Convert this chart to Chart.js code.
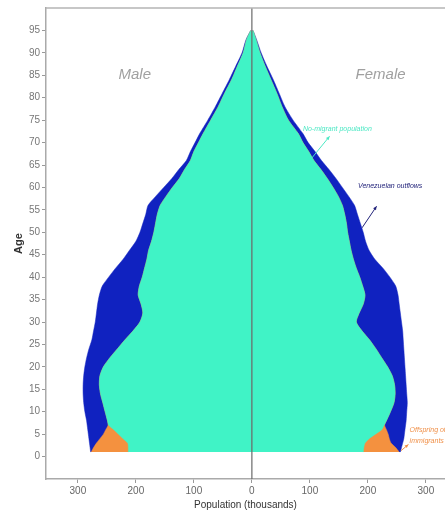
<!DOCTYPE html>
<html>
<head>
<meta charset="utf-8">
<script src="https://cdn.jsdelivr.net/npm/chart.js@4.4.0/dist/chart.umd.min.js"></script>
<style>
  html, body { margin: 0; padding: 0; background: #fff; overflow: hidden; }
  #wrap { position: relative; width: 445px; height: 511px; }
</style>
</head>
<body>
<div id="wrap"><canvas id="pyramid"></canvas></div>
<script>
// ── Data (thousands) ────────────────────────────────────────────────────────

const ages = [1, 2, 3, 4, 5, 6, 7, 8, 10, 12, 14, 16, 18, 20, 22, 24, 26, 28, 30, 32, 34, 36, 38, 40,
  42, 44, 46, 48, 50, 52, 54, 56, 58, 60, 62, 64, 66, 68, 70, 72, 75, 78, 81, 84, 87, 90, 93, 95];

const maleNoMigrant = [213, 213, 214, 222, 230, 238, 247, 249, 253, 257, 261, 263, 262, 256, 245, 232, 219, 205,
  193, 188, 191, 196, 194, 189, 185, 181, 178, 173, 169, 166, 163, 158, 148, 137, 125, 116, 106, 100,
  92, 84, 71, 58, 47, 35, 25, 15, 9, 2];
const maleOffspring = [64, 60, 54, 40, 26, 14, 1, 0, 0, 0, 0, 0, 0, 0, 0, 0, 0, 0, 0, 0, 0, 0, 0, 0,
  0, 0, 0, 0, 0, 0, 0, 0, 0, 0, 0, 0, 0, 0, 0, 0, 0, 0, 0, 0, 0, 0, 0, 0];
const maleOutflows = [1, 6, 12, 19, 26, 31, 36, 36, 35, 33, 30, 28, 28, 32, 40, 49, 57, 68, 77, 80, 75, 67, 64, 58,
  50, 41, 33, 27, 24, 22, 20, 21, 18, 15, 13, 10, 7, 6, 6, 6, 5, 5, 4, 4, 3, 2, 1, 0];

const femaleNoMigrant = [192, 193, 195, 202, 213, 224, 228, 232, 239, 245, 247, 246, 242, 234, 224, 214, 203, 190,
  180, 185, 192, 195, 191, 186, 180, 175, 171, 168, 165, 163, 160, 156, 149, 140, 130, 119, 107, 98,
  88, 80, 63, 52, 43, 33, 23, 14, 7, 2];
const femaleOffspring = [62, 55, 45, 35, 22, 8, 1, 0, 0, 0, 0, 0, 0, 0, 0, 0, 0, 0, 0, 0, 0, 0, 0, 0,
  0, 0, 0, 0, 0, 0, 0, 0, 0, 0, 0, 0, 0, 0, 0, 0, 0, 0, 0, 0, 0, 0, 0, 0];
const femaleOutflows = [2, 10, 20, 25, 28, 32, 36, 34, 28, 23, 20, 20, 23, 30, 39, 48, 58, 70, 78, 71, 62, 57, 57, 52,
  46, 37, 31, 28, 27, 24, 22, 21, 18, 16, 15, 14, 13, 11, 9, 8, 8, 5, 4, 4, 3, 2, 1, 0];

const xTicks = [-300, -200, -100, 0, 100, 200, 300];
const yTicks = [0, 5, 10, 15, 20, 25, 30, 35, 40, 45, 50, 55, 60, 65, 70, 75, 80, 85, 90, 95];

const GREEN = '#40F3C6';
const ORANGE = '#F4913F';
const BLUE = '#1022C0';

// ── Helpers ─────────────────────────────────────────────────────────────────

// outer edge of a layer = sum of all layers up to it; male side is negative
function edge(layers, sign) {
  return ages.map((age, i) => ({
    y: age,
    x: sign * layers.reduce((s, arr) => s + arr[i], 0),
  }));
}

function layer(label, data, color, order) {
  return {
    label,
    data,
    order,
    borderColor: color,
    backgroundColor: color,
    borderWidth: 0.5,
    pointRadius: 0,
    tension: 0.25,
    fill: 'origin',
  };
}

// ── Notes on the plot: sex labels and arrows ────────────────────────────────

const notes = [
  { text: 'No-migrant population', x: 88, y: 73, color: '#4de8c4', from: [103, 66.5], to: [134, 71.4] },
  { text: 'Venezuelan outflows', x: 183, y: 60.2, color: '#22237a', from: [190, 51], to: [215, 55.8] },
  { text: 'Offspring of', x: 272, y: 6, color: '#f0914a', from: null, to: null },
  { text: 'immigrants', x: 272, y: 3.4, color: '#f0914a', from: [257, 1.3], to: [270, 2.7] },
];

function arrow(ctx, x0, y0, x1, y1, color) {
  const a = Math.atan2(y1 - y0, x1 - x0);
  ctx.strokeStyle = color;
  ctx.fillStyle = color;
  ctx.lineWidth = 1;
  ctx.beginPath();
  ctx.moveTo(x0, y0);
  ctx.lineTo(x1, y1);
  ctx.stroke();
  ctx.beginPath();
  ctx.moveTo(x1, y1);
  ctx.lineTo(x1 - 4 * Math.cos(a - 0.45), y1 - 4 * Math.sin(a - 0.45));
  ctx.lineTo(x1 - 4 * Math.cos(a + 0.45), y1 - 4 * Math.sin(a + 0.45));
  ctx.closePath();
  ctx.fill();
}

const notesPlugin = {
  id: 'notes',
  afterDatasetsDraw(chart) {
    const { ctx, scales: { x, y }, chartArea } = chart;
    ctx.save();

    // top frame line
    ctx.strokeStyle = '#b5b5b5';
    ctx.lineWidth = 1.5;
    ctx.beginPath();
    ctx.moveTo(chartArea.left, chartArea.top);
    ctx.lineTo(chartArea.right, chartArea.top);
    ctx.stroke();

    ctx.font = 'italic 15px "Liberation Sans", Arial, sans-serif';
    ctx.fillStyle = '#a0a0a0';
    ctx.textAlign = 'center';
    ctx.textBaseline = 'middle';
    ctx.fillText('Male', x.getPixelForValue(-202), y.getPixelForValue(85));
    ctx.fillText('Female', x.getPixelForValue(222), y.getPixelForValue(85));

    ctx.font = 'italic 7px "Liberation Sans", Arial, sans-serif';
    ctx.textAlign = 'left';
    notes.forEach(n => {
      ctx.fillStyle = n.color;
      ctx.fillText(n.text, x.getPixelForValue(n.x), y.getPixelForValue(n.y));
      if (n.from) {
        arrow(ctx,
          x.getPixelForValue(n.from[0]), y.getPixelForValue(n.from[1]),
          x.getPixelForValue(n.to[0]), y.getPixelForValue(n.to[1]), n.color);
      }
    });
    ctx.restore();
  },
};

// ── Chart ───────────────────────────────────────────────────────────────────

Chart.defaults.font.family = '"Liberation Sans", Arial, sans-serif';

new Chart(document.getElementById('pyramid'), {
  type: 'line',
  data: {
    datasets: [
      {
        label: 'centre',
        data: [{ x: 0, y: -5 }, { x: 0, y: 100 }],
        order: 0,
        borderColor: '#6a6a6a',
        borderWidth: 1.2,
        pointRadius: 0,
        fill: false,
      },
      layer('Male no-migrant', edge([maleNoMigrant], -1), GREEN, 1),
      layer('Female no-migrant', edge([femaleNoMigrant], 1), GREEN, 1),
      layer('Male offspring', edge([maleNoMigrant, maleOffspring], -1), ORANGE, 2),
      layer('Female offspring', edge([femaleNoMigrant, femaleOffspring], 1), ORANGE, 2),
      layer('Male outflows', edge([maleNoMigrant, maleOffspring, maleOutflows], -1), BLUE, 3),
      layer('Female outflows', edge([femaleNoMigrant, femaleOffspring, femaleOutflows], 1), BLUE, 3),
    ],
  },
  options: {
    indexAxis: 'y',
    responsive: true,
    maintainAspectRatio: false,
    animation: false,
    layout: { padding: { top: 7, left: 0, right: 0, bottom: 0 } },
    plugins: { legend: { display: false }, tooltip: { enabled: false } },
    scales: {
      x: {
        type: 'linear',
        min: -355, max: 333,
        afterBuildTicks: s => { s.ticks = xTicks.map(v => ({ value: v })); },
        afterFit: s => { s.height = 32; },
        ticks: { color: '#666', font: { size: 10 }, padding: 2, callback: v => Math.abs(v) },
        grid: { drawOnChartArea: false, tickLength: 4, color: '#999' },
        border: { color: '#aaa', width: 1.5 },
        title: { display: true, text: 'Population (thousands)', color: '#333', font: { size: 10 }, padding: 0 },
      },
      y: {
        type: 'linear',
        min: -5, max: 100,
        afterBuildTicks: s => { s.ticks = yTicks.map(v => ({ value: v })); },
        afterFit: s => { s.width = 46; },
        ticks: { color: '#777', font: { size: 10 }, padding: 2 },
        grid: { drawOnChartArea: false, tickLength: 4, color: '#999' },
        border: { color: '#aaa', width: 1.5 },
        title: { display: true, text: 'Age', color: '#333', font: { size: 11, weight: '600' }, padding: { top: 12, bottom: 0 } },
      },
    },
  },
  plugins: [notesPlugin],
});
</script>
</body>
</html>
